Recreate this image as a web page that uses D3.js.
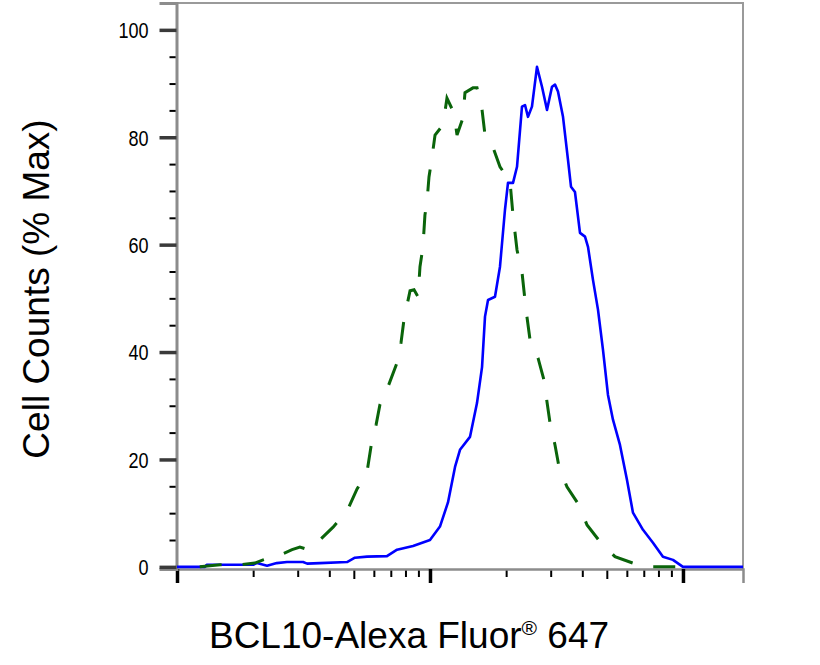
<!doctype html>
<html>
  <head>
    <meta charset="utf-8">
    <title>BCL10-Alexa Fluor 647 histogram</title>
    <script src="https://cdnjs.cloudflare.com/ajax/libs/d3/7.8.5/d3.min.js"></script>
    <style>
      body { margin: 0; background: #fff; }
      text { font-family: "Liberation Sans", Arial, sans-serif; fill: #000; }
    </style>
  </head>

  <body>
    <div id="chart"></div>

    <script>
      // Data (x = fluorescence intensity, y = % of max)
      const stainedIntensity = [10, 12.9, 13.1, 20.0, 20.7, 22.7, 24.8, 27.2, 31.5, 32.7, 36.7, 47.0, 50.5, 56.4,
        67.6, 74.1, 85.7, 100, 109.5, 117.8, 125.6, 131.4, 143.9, 153.4, 160.6, 165.0, 169.6, 180.7, 189.1,
        197.9, 203.4, 212.9, 220.8, 231.0, 237.5, 244.0, 253.0, 264.8, 277.2, 290.1, 303.6, 312.0, 320.6,
        335.6, 351.2, 360.9, 374.2, 391.7, 410.0, 421.3, 441.0, 461.4, 482.9, 505.4, 528.8, 563.6, 600.6,
        634.3, 695.0, 761.0, 833.5, 912.9, 1000, 1167, 1727];
      const stainedCounts = [0, 0, 0.4, 0.4, 0.7, 0.2, 0.7, 0.9, 0.9, 0.6, 0.7, 0.9, 1.7, 1.9,
        2.0, 3.2, 3.9, 5.0, 7.5, 12.0, 18.6, 21.8, 24.2, 30.5, 37.2, 46.6, 49.7, 50.3, 55.9,
        66.5, 71.5, 71.5, 74.5, 85.7, 86.0, 83.8, 85.7, 93.1, 89.4, 85.1, 89.4, 89.8, 88.5,
        83.8, 75.8, 70.8, 69.8, 62.2, 61.5, 59.6, 53.4, 47.9, 40.4, 32.0, 27.4, 22.7, 16.2,
        10.1, 6.9, 4.5, 1.9, 1.3, 0, 0, 0];

      const controlIntensity = [12.3, 14.8, 17.7, 20.3, 21.9, 25.5, 28.5, 30.6, 33.0, 35.8, 41.4, 47.0, 51.5,
        56.4, 59.0, 61.2, 63.4, 68.2, 74.1, 76.8, 78.9, 83.4, 86.5, 89.7, 91.3, 93.8, 95.5, 97.3, 99.1,
        101.8, 104.7, 112.6, 116.7, 124.4, 127.9, 135.0, 137.5, 147.9, 153.4, 160.6, 165.0, 175.9, 189.1,
        207.2, 212.9, 220.8, 231.0, 239.6, 248.5, 267.3, 282.2, 290.1, 298.2, 312.0, 323.6, 347.9, 388.1,
        417.6, 469.8, 538.5, 634.3, 761.0, 1000];
      const controlCounts = [0, 0.4, 0.4, 0.7, 1.3, 2.2, 3.2, 3.7, 3.2, 4.5, 7.4, 10.4, 14.5,
        17.7, 23.6, 26.4, 30.2, 33.5, 38.0, 41.7, 46.0, 51.4, 51.6, 50.3, 55.9, 59.6, 65.5, 68.0, 72.6,
        76.2, 80.4, 82.3, 87.3, 84.5, 80.4, 83.6, 88.3, 89.2, 89.2, 85.1, 80.4, 78.6, 74.5,
        71.7, 65.5, 59.0, 54.9, 47.9, 42.3, 38.9, 34.8, 30.7, 26.8, 22.7, 18.6, 14.9, 11.5,
        7.8, 4.7, 1.9, 0.7, 0, 0];

      const yMajorTicks = [0, 20, 40, 60, 80, 100];
      const yMinorTicks = [5, 10, 15, 25, 30, 35, 45, 50, 55, 65, 70, 75, 85, 90, 95, 105];
      const xMajorTicks = [10, 100, 1000];
      const xMinorTicks = [20, 30, 40, 60, 70, 80, 90, 200, 300, 400, 600, 700, 800, 900];
      const xMidTicks = [50, 500];

      const width = 820, height = 665;
      const margin = { top: 3, right: 77, bottom: 96, left: 177 };

      const svg = d3.select('#chart')
        .append('svg')
        .attr('width', width)
        .attr('height', height);

      const x = d3.scaleLog()
        .domain([10, 1727])
        .range([margin.left, width - margin.right]);

      const y = d3.scaleLinear()
        .domain([-0.4, 105])
        .range([height - margin.bottom, margin.top]);

      const bottom = height - margin.bottom;

      // frame (top + right)
      svg.append('path')
        .attr('d', `M${margin.left},${margin.top}H${width - margin.right}V${bottom}`)
        .attr('fill', 'none')
        .attr('stroke', '#9a9a9a')
        .attr('stroke-width', 2);

      // x axis
      const xAxis = g => g.attr('transform', `translate(0,${bottom})`);
      svg.append('g').call(xAxis)
        .call(d3.axisBottom(x).tickValues(xMinorTicks).tickSize(8).tickFormat(''))
        .call(g => g.selectAll('.tick line').attr('stroke', '#000').attr('stroke-width', 2))
        .call(g => g.select('.domain').remove());
      svg.append('g').call(xAxis)
        .call(d3.axisBottom(x).tickValues(xMidTicks).tickSize(10).tickFormat(''))
        .call(g => g.selectAll('.tick line').attr('stroke', '#000').attr('stroke-width', 2))
        .call(g => g.select('.domain').remove());
      svg.append('g').call(xAxis)
        .call(d3.axisBottom(x).tickValues(xMajorTicks).tickSize(14).tickFormat(''))
        .call(g => g.selectAll('.tick line').attr('stroke', '#000').attr('stroke-width', 3.5))
        .call(g => g.select('.domain').attr('stroke', '#8c8c8c').attr('stroke-width', 2.5));

      // y axis
      const yAxis = g => g.attr('transform', `translate(${margin.left - 0.5},0)`);
      svg.append('g').call(yAxis)
        .call(d3.axisLeft(y).tickValues(yMinorTicks).tickSize(7).tickFormat(''))
        .call(g => g.selectAll('.tick line').attr('stroke', '#000').attr('stroke-width', 2))
        .call(g => g.select('.domain').remove());
      svg.append('g').call(yAxis)
        .call(d3.axisLeft(y).tickValues(yMajorTicks).tickSize(17).tickPadding(12).tickFormat(d3.format('d')))
        .call(g => g.selectAll('.tick line').attr('stroke', '#3a3a3a').attr('stroke-width', 3.5))
        .call(g => g.select('.domain').attr('stroke', '#8c8c8c').attr('stroke-width', 3))
        .call(g => g.selectAll('.tick text')
          .attr('font-size', 21.5)
          .attr('font-family', '"Liberation Sans", Arial, sans-serif')
          .attr('fill', '#000')
          .attr('dy', null)
          .attr('y', 0)
          .attr('x', 0)
          .attr('transform', 'translate(-28,7.8) scale(0.84,1)'));

      // curves
      const line = d3.line()
        .x(d => x(d[0]))
        .y(d => y(d[1]));

      svg.append('path')
        .datum(d3.zip(stainedIntensity, stainedCounts))
        .attr('d', line)
        .attr('fill', 'none')
        .attr('stroke', '#0000ff')
        .attr('stroke-width', 2.6)
        .attr('stroke-linejoin', 'round');

      svg.append('path')
        .datum(d3.zip(controlIntensity, controlCounts))
        .attr('d', line)
        .attr('fill', 'none')
        .attr('stroke', '#0a640a')
        .attr('stroke-width', 3)
        .attr('stroke-dasharray', '22,21');

      // axis titles
      const xTitle = svg.append('text')
        .attr('x', 409)
        .attr('y', 648)
        .attr('text-anchor', 'middle')
        .attr('font-size', 37);
      xTitle.append('tspan').text('BCL10-Alexa Fluor');
      xTitle.append('tspan').attr('font-size', 21).attr('dy', -13).text('®');
      xTitle.append('tspan').attr('dy', 13).text(' 647');

      svg.append('text')
        .attr('transform', 'translate(49,289) rotate(-90)')
        .attr('text-anchor', 'middle')
        .attr('font-size', 37)
        .text('Cell Counts (% Max)');
    </script>
  </body>
</html>
